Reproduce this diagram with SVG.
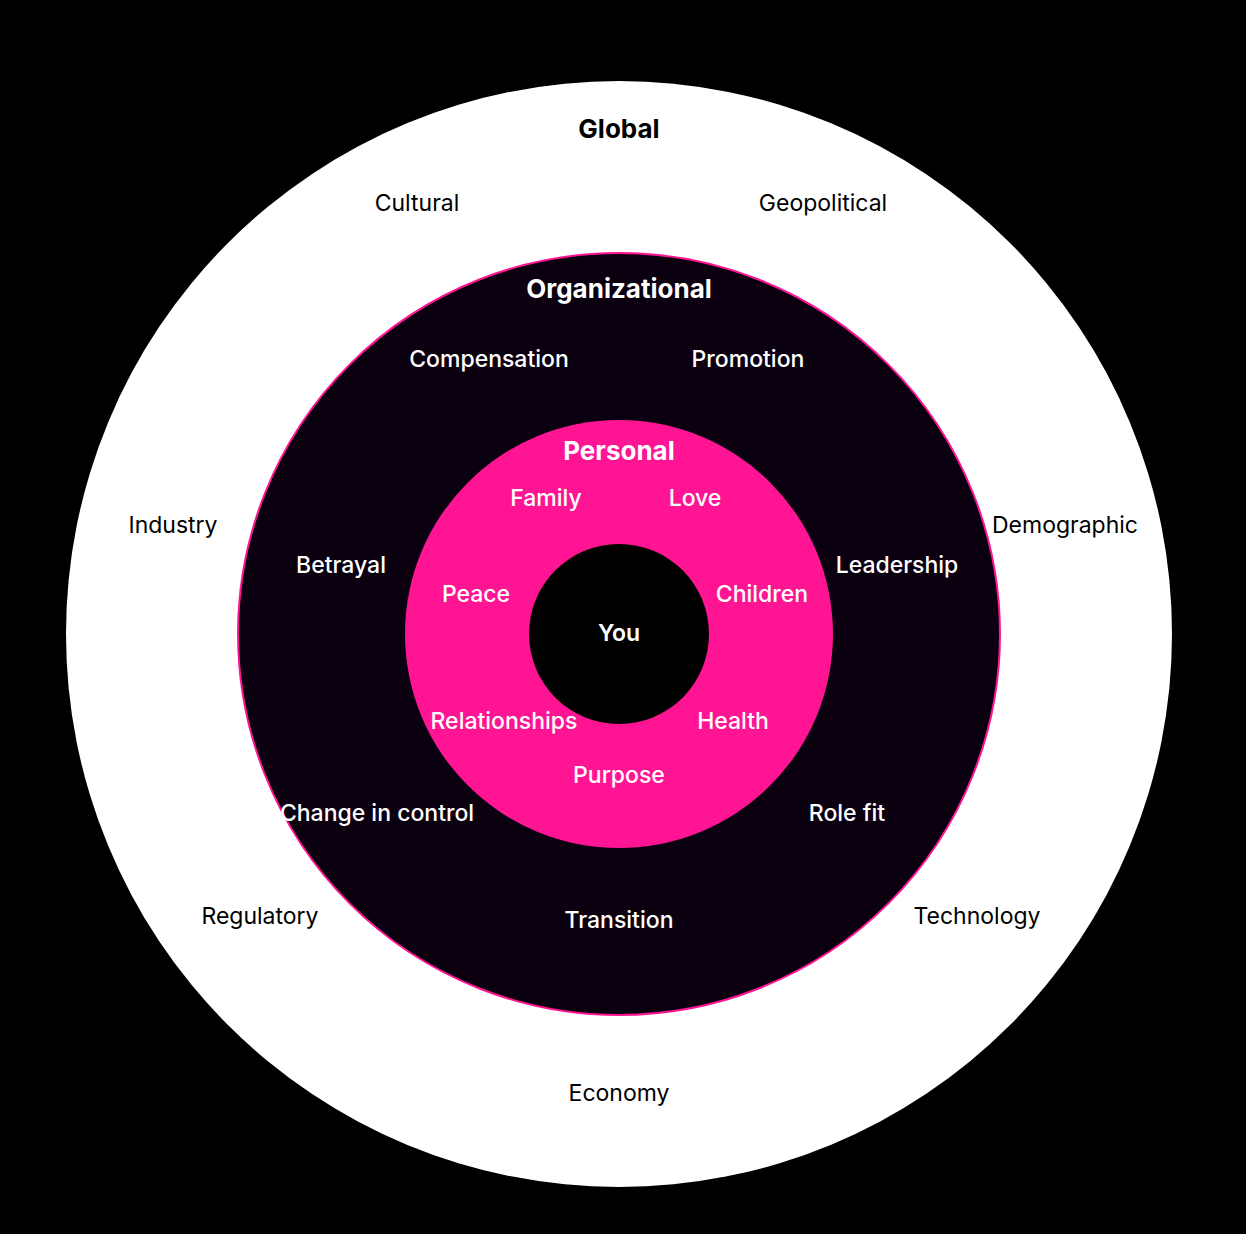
<svg xmlns="http://www.w3.org/2000/svg" width="1246" height="1234" viewBox="0 0 1246 1234">
<style>
text{font-family:Inter,"Noto Sans","Liberation Sans",sans-serif;text-anchor:middle;dominant-baseline:central;font-size:23px}
.k{fill:#000;font-weight:400}
.w{fill:#fff;font-weight:500}
.h{font-size:26px;font-weight:700}
</style>
<rect width="1246" height="1234" fill="#000"/>
<g id="global">
<circle cx="619" cy="634" r="553" fill="#fff"/>
<text class="k h" x="619" y="128">Global</text>
<text class="k" x="417" y="203">Cultural</text>
<text class="k" x="823" y="203">Geopolitical</text>
<text class="k" x="173" y="525">Industry</text>
<text class="k" x="1065" y="525">Demographic</text>
<text class="k" x="260" y="916">Regulatory</text>
<text class="k" x="977" y="916">Technology</text>
<text class="k" x="619" y="1093">Economy</text>
</g>
<g id="organizational">
<circle cx="619" cy="634" r="381" fill="#0b0010" stroke="#ff1493" stroke-width="2"/>
<text class="w h" x="619" y="288">Organizational</text>
<text class="w" x="489" y="359">Compensation</text>
<text class="w" x="748" y="359">Promotion</text>
<text class="w" x="341" y="565">Betrayal</text>
<text class="w" x="897" y="565">Leadership</text>
<text class="w" x="377" y="813">Change in control</text>
<text class="w" x="847" y="813">Role fit</text>
<text class="w" x="619" y="920">Transition</text>
</g>
<g id="personal">
<circle cx="619" cy="634" r="214" fill="#ff1493"/>
<text class="w h" x="619" y="450">Personal</text>
<text class="w" x="546" y="498">Family</text>
<text class="w" x="695" y="498">Love</text>
<text class="w" x="476" y="594">Peace</text>
<text class="w" x="762" y="594">Children</text>
<text class="w" x="504" y="721">Relationships</text>
<text class="w" x="733" y="721">Health</text>
<text class="w" x="619" y="775">Purpose</text>
</g>
<g id="you">
<circle cx="619" cy="634" r="90" fill="#000"/>
<text class="w" x="619" y="633" style="font-weight:600">You</text>
</g>
<g id="connectors"/>
</svg>
